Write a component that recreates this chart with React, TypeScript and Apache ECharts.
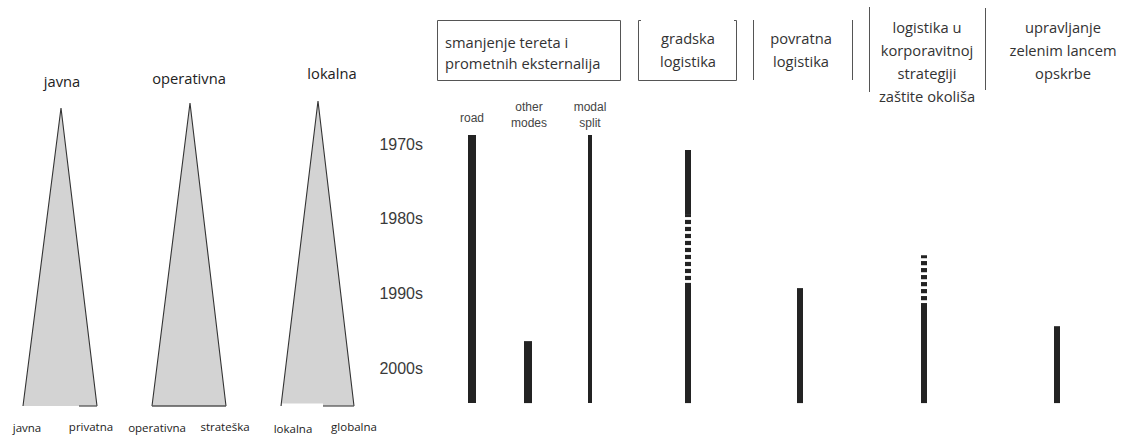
import React, { useEffect, useRef } from "react";
import * as echarts from "echarts";

const W = 1124;
const H = 436;

// ---- data ----
const barNames = [
  "road",
  "other modes",
  "modal split",
  "gradska logistika",
  "povratna logistika",
  "logistika u korporavitnoj strategiji zaštite okoliša",
  "upravljanje zelenim lancem opskrbe",
];
const barStart = [1968.8, 1996.4, 1968.8, 1970.8, 1989.3, 1984.9, 1994.4];
const barEnd = [2004.7, 2004.7, 2004.7, 2004.7, 2004.7, 2004.7, 2004.7];
const dashFrom: (number | null)[] = [null, null, null, 1979.5, null, 1984.9, null];
const dashTo: (number | null)[] = [null, null, null, 1988.6, null, 1991.3, null];
const decadeValues = [1970, 1980, 1990, 2000];
const decadeLabels = ["1970s", "1980s", "1990s", "2000s"];

const headerTexts = [
  "smanjenje tereta i\nprometnih eksternalija",
  "gradska\nlogistika",
  "povratna\nlogistika",
  "logistika u\nkorporavitnoj\nstrategiji\nzaštite okoliša",
  "upravljanje\nzelenim lancem\nopskrbe",
];
const subLabels = ["road", "other\nmodes", "modal\nsplit"];

const triTitles = ["javna", "operativna", "lokalna"];
const triLeftLabels = ["javna", "operativna", "lokalna"];
const triRightLabels = ["privatna", "strateška", "globalna"];

// ---- layout ----
const barX = [472, 528, 590, 688, 800, 924, 1057];
const barW = [8, 8, 4, 6, 6, 6, 6];
const triApex = [[61, 108], [190, 103], [318, 101]];
const triBase = [[23, 97], [152, 226], [281, 354]];
const triBaseY = 406;
const triDarkBase = [[79, 97], [152, 226], [323, 354]];

const BAR_COLOR = "#232323";
const TEXT = "#333";
const HFONT = "Open Sans";

export default function App() {
  const ref = useRef<HTMLDivElement>(null);
  useEffect(() => {
    if (!ref.current) return;
    const chart = echarts.init(ref.current, null, { renderer: "svg" });

    const yMin = 1965;
    const yMax = 2005;
    const pxPerYear = 224 / 30;
    const gridTop = 144 - (1970 - yMin) * pxPerYear;
    const gridH = (yMax - yMin) * pxPerYear;

    const barData = barX.map((x, i) => [x, barStart[i], barEnd[i]]);
    const triData = triApex.map((a, i) => [a[0], a[1], triBase[i][0], triBase[i][1], triBaseY]);

    const graphic: any[] = [];
    // header frames
    graphic.push({ type: "rect", shape: { x: 437.5, y: 20.5, width: 183, height: 60 }, style: { fill: "none", stroke: "#555", lineWidth: 1 } });
    graphic.push({ type: "polyline", shape: { points: [[641, 20.5], [638.5, 20.5], [638.5, 80.5], [736.5, 80.5], [736.5, 20.5], [734, 20.5]] }, style: { fill: "none", stroke: "#555", lineWidth: 1 } });
    const vlines = [[753.5, 20, 80], [852.5, 20, 80], [869.5, 7, 92], [985.5, 8, 90]];
    vlines.forEach((v) => graphic.push({ type: "line", shape: { x1: v[0], y1: v[1], x2: v[0], y2: v[2] }, style: { stroke: "#555", lineWidth: 1 } }));

    const headerPos = [
      { x: 445, y: 52.5, align: "left", lh: 21 },
      { x: 688, y: 49.5, align: "center", lh: 23 },
      { x: 801, y: 49.5, align: "center", lh: 23 },
      { x: 927, y: 61.5, align: "center", lh: 23 },
      { x: 1063, y: 49.5, align: "center", lh: 23 },
    ];
    headerTexts.forEach((t, i) => {
      const p = headerPos[i];
      graphic.push({ type: "text", x: p.x, y: p.y, style: { text: t, fill: TEXT, font: `14.7px "${HFONT}"`, align: p.align, verticalAlign: "middle", lineHeight: p.lh } });
    });

    const subPos = [[472, 118], [529, 115], [590, 115]];
    subLabels.forEach((t, i) => {
      graphic.push({ type: "text", x: subPos[i][0], y: subPos[i][1], style: { text: t, fill: "#444", font: `12px "Liberation Sans"`, align: "center", verticalAlign: "middle", lineHeight: 16 } });
    });

    const titlePos = [[62, 81], [189, 78], [332, 73]];
    triTitles.forEach((t, i) => {
      graphic.push({ type: "text", x: titlePos[i][0], y: titlePos[i][1], style: { text: t, fill: "#222", font: `14.7px "${HFONT}"`, align: "center", verticalAlign: "middle" } });
    });
    const leftPos = [27, 157, 293];
    const rightPos = [91, 225, 354];
    triLeftLabels.forEach((t, i) => {
      graphic.push({ type: "text", x: leftPos[i], y: i === 2 ? 428 : 427, style: { text: t, fill: "#222", font: `11.5px "${HFONT}"`, align: "center", verticalAlign: "middle" } });
      graphic.push({ type: "text", x: rightPos[i], y: 426, style: { text: triRightLabels[i], fill: "#222", font: `11.5px "${HFONT}"`, align: "center", verticalAlign: "middle" } });
    });

    chart.setOption({
      animation: false,
      backgroundColor: "#fff",
      grid: [
        { left: 430, right: 0, top: gridTop, height: gridH },
        { left: 0, right: 0, top: 0, bottom: 0 },
      ],
      xAxis: [
        { type: "value", gridIndex: 0, min: 430, max: W, show: false },
        { type: "value", gridIndex: 1, min: 0, max: W, show: false },
      ],
      yAxis: [
        {
          type: "value",
          gridIndex: 0,
          min: yMin,
          max: yMax,
          inverse: true,
          axisLine: { show: false },
          axisTick: { show: false },
          splitLine: { show: false },
          axisLabel: {
            customValues: decadeValues,
            margin: 7,
            color: "#3a3a3a",
            fontSize: 16,
            fontFamily: "Liberation Sans",
            formatter: (v: number) => decadeLabels[decadeValues.indexOf(v)] ?? "",
          },
        },
        { type: "value", gridIndex: 1, min: 0, max: H, inverse: true, show: false },
      ],
      graphic,
      series: [
        {
          type: "custom",
          name: "triangles",
          xAxisIndex: 1,
          yAxisIndex: 1,
          data: triData,
          silent: true,
          renderItem: (params: any, api: any) => {
            const i = params.dataIndex;
            const apex = api.coord([api.value(0), api.value(1)]);
            const bl = api.coord([api.value(2), api.value(4)]);
            const br = api.coord([api.value(3), api.value(4)]);
            const d0 = api.coord([triDarkBase[i][0], api.value(4)]);
            const d1 = api.coord([triDarkBase[i][1], api.value(4)]);
            const children: any[] = [
              { type: "polygon", shape: { points: [apex, bl, br] }, style: { fill: "#d3d3d3", stroke: "none" } },
              { type: "polyline", shape: { points: [bl, apex, br] }, style: { fill: "none", stroke: "#333", lineWidth: 1.1 } },
              { type: "line", shape: { x1: d0[0], y1: d0[1], x2: d1[0], y2: d1[1] }, style: { stroke: "#555", lineWidth: 1.3 } },
            ];
            if (i === 2) {
              children.push({ type: "rect", shape: { x: bl[0] + 1, y: bl[1] - 2.6, width: d0[0] - bl[0] - 1, height: 3.5 }, style: { fill: "#fff" } });
            }
            return { type: "group", children };
          },
        },
        {
          type: "custom",
          name: "timeline",
          xAxisIndex: 0,
          yAxisIndex: 0,
          data: barData,
          silent: true,
          renderItem: (params: any, api: any) => {
            const i = params.dataIndex;
            const w = barW[i];
            const top = api.coord([api.value(0), api.value(1)]);
            const bot = api.coord([api.value(0), api.value(2)]);
            const cx = top[0];
            const children: any[] = [];
            const df = dashFrom[i];
            const dt = dashTo[i];
            if (df != null && dt != null) {
              const pf = api.coord([api.value(0), df])[1];
              const pt = api.coord([api.value(0), dt])[1];
              if (pf > top[1]) children.push({ type: "rect", shape: { x: cx - w / 2, y: top[1], width: w, height: pf - top[1] }, style: { fill: BAR_COLOR } });
              children.push({ type: "rect", shape: { x: cx - w / 2, y: pt, width: w, height: bot[1] - pt }, style: { fill: BAR_COLOR } });
              let y = pt;
              const gap = 2.8;
              const dash = 4.2;
              while (true) {
                y -= gap;
                if (y <= pf) break;
                const dTop = Math.max(y - dash, pf);
                children.push({ type: "rect", shape: { x: cx - w / 2, y: dTop, width: w, height: y - dTop }, style: { fill: BAR_COLOR } });
                y -= dash;
              }
            } else {
              children.push({ type: "rect", shape: { x: cx - w / 2, y: top[1], width: w, height: bot[1] - top[1] }, style: { fill: BAR_COLOR } });
            }
            return { type: "group", children };
          },
        },
      ],
    });
    return () => chart.dispose();
  }, []);
  return <div ref={ref} style={{ position: "absolute", left: 0, top: 0, width: W, height: H, background: "#fff" }} />;
}
